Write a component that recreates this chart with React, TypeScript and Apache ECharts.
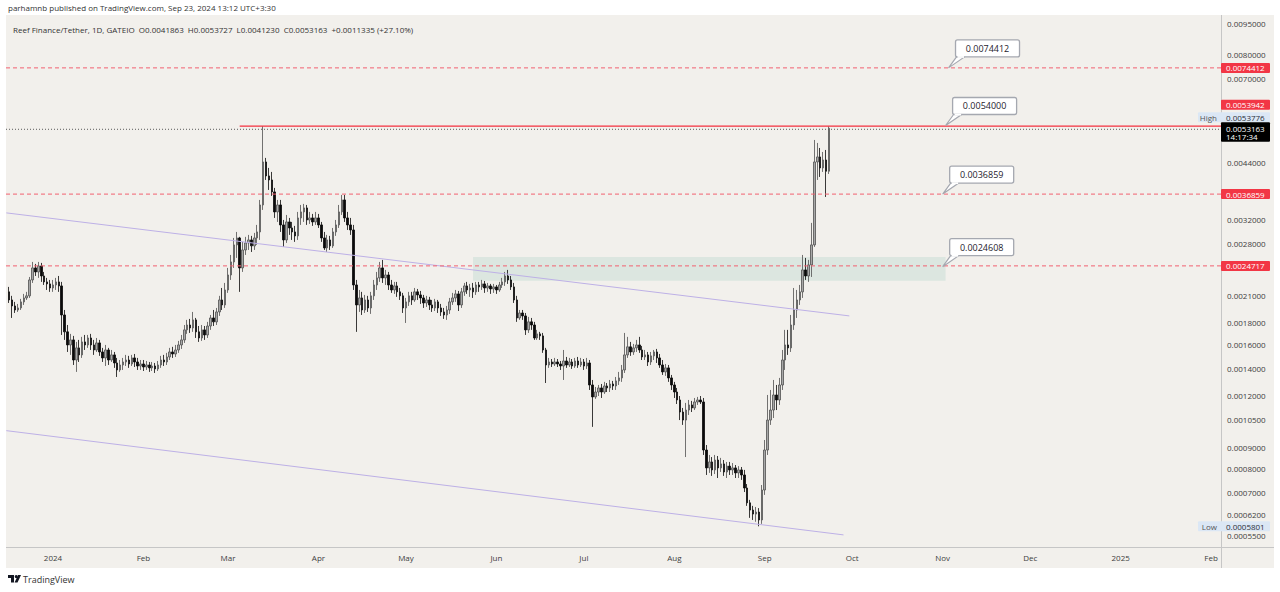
import React, { useEffect, useRef } from 'react';
import * as echarts from 'echarts';

// ---------------- data (prices in units of 1e-7 USDT) ----------------
const FIRST_CANDLE_DATE = '2023-12-17';
const PRICE_UNIT = 1e-7;

const OPEN = [
  21390, 20450, 19780, 19340, 19560, 20230, 20680, 20920, 22860, 24440, 23900, 24710, 23370, 22610, 22360,
  21860, 22230, 22610, 22110, 18810, 17120, 15920, 16370, 14640, 15660,
  15060, 16190, 15920, 16550, 15920, 15480, 16100, 15310, 14810, 15480,
  14640, 15060, 14400, 13850, 14240, 14480, 14640, 14320, 14810, 14480,
  14160, 14320, 14080, 14240, 14010, 14160, 13930, 14240, 14640, 14480,
  14890, 15310, 15140, 15480, 15920, 16370, 17310, 17790, 17500, 18300,
  17120, 16550, 17310, 16830, 17690, 18500, 18100, 19130, 20450, 19890,
  21620, 23500, 25270, 27780, 28880, 24440, 27010, 28090, 28560, 27630,
  28880, 29860, 34700, 44080, 40780, 39880, 37310, 33380, 34700, 31050,
  28560, 31570, 30530, 29860, 29210, 32280, 33380, 34130, 31920, 32280,
  31570, 32280, 31050, 28880, 27320, 28560, 27630, 29860, 31050, 33380,
  35680, 32280, 31050, 30190, 22230, 19890, 20680, 19340, 20450, 19560,
  20920, 22230, 23120, 24440, 23120, 23500, 22230, 21620, 22110, 21390,
  20920, 19560, 20230, 20920, 20450, 21390, 21030, 20680, 20110, 20450,
  19890, 19560, 20230, 19560, 19130, 18810, 19340, 20230, 20680, 21150,
  19890, 21390, 22110, 21620, 21860, 21390, 22230, 21990, 22360, 21860,
  22110, 21740, 21990, 21620, 22230, 22610, 23370, 22860, 21990, 20450,
  18500, 19020, 18710, 17310, 18100, 17790, 16550, 16930, 16740, 15480,
  14240, 14480, 14320, 14480, 14320, 14160, 14560, 14240, 14480, 14160,
  14560, 14240, 14480, 14160, 14400, 12740, 11920, 12250, 12530, 12250,
  12670, 12530, 12810, 12670, 13030, 13250, 13850, 15060, 15750, 15310,
  15660, 15920, 15480, 14890, 15060, 14480, 14980, 15310, 14810, 14240,
  13700, 14010, 13250, 12740, 12250, 11720, 10960, 10480, 11080, 11400,
  11210, 11590, 11720, 11590, 8870, 8030, 8300, 7940, 8390, 8030,
  8210, 7850, 8110, 7940, 8030, 7810, 7940, 7720, 7180, 6610,
  6350, 6210, 6280, 6010, 7100, 8870, 10480, 11080, 12050, 11720,
  12740, 14640, 15920, 15660, 17790, 19340, 20450, 21390, 24170, 23370,
  24850, 27780, 44080, 45330, 42640, 44570, 41863,
];
const HIGH = [
  21990, 20920, 20230, 20000, 20570, 21150, 21390, 23240, 25270, 24990, 25270, 25130, 23900, 23120, 22860,
  22860, 23120, 23370, 22610, 19340, 17790, 16930, 16740, 16190, 16370,
  16650, 16830, 16830, 16930, 16370, 16550, 16370, 15660, 15920, 15660,
  15480, 15310, 14810, 14640, 14810, 15060, 14980, 15060, 15140, 14810,
  14640, 14640, 14560, 14480, 14480, 14400, 14560, 14980, 15060, 15230,
  15660, 15750, 15920, 16280, 16830, 17790, 18300, 18400, 19130, 18500,
  17690, 17790, 17690, 18100, 18810, 19340, 19560, 20920, 21860, 22480,
  24440, 26270, 28880, 29860, 29050, 28250, 29050, 29370, 29210, 29700,
  31050, 35680, 53776, 45080, 42640, 41700, 38150, 35680, 35680, 31920,
  32820, 32280, 31570, 30880, 33380, 34700, 34900, 34700, 33380, 33010,
  33380, 33010, 31570, 29860, 29370, 29210, 30530, 31920, 34700, 36690,
  36690, 33380, 32280, 31050, 22860, 21620, 21390, 21030, 20920, 21390,
  22860, 23900, 25270, 25550, 24170, 23900, 22860, 22610, 22610, 21860,
  21270, 20680, 21390, 21390, 21860, 21740, 21500, 21030, 20920, 20800,
  20450, 20570, 20450, 20000, 19560, 19780, 20680, 21270, 21620, 21500,
  21860, 22480, 22610, 22360, 22480, 22610, 22610, 22860, 22730, 22480,
  22360, 22360, 22230, 22610, 23120, 23900, 24170, 23370, 22480, 20920,
  19340, 19340, 19020, 18610, 18500, 18100, 17310, 17120, 17020, 15660,
  14810, 14720, 14810, 14720, 14560, 15480, 14890, 14810, 14720, 14810,
  14890, 14810, 14720, 14810, 14640, 13100, 12600, 12740, 12810, 12960,
  12880, 13100, 13030, 13320, 13700, 14240, 17020, 16650, 16190, 16010,
  16370, 16650, 15830, 15480, 15310, 15310, 15480, 15570, 15140, 14640,
  14320, 14240, 13470, 12960, 12530, 11980, 11210, 11530, 11720, 11660,
  11850, 11920, 11980, 11850, 9120, 8630, 8530, 8630, 8580, 8490,
  8390, 8300, 8300, 8250, 8160, 8110, 8070, 7940, 7340, 6720,
  6500, 6460, 6420, 7300, 9380, 12050, 12390, 13100, 12740, 13250,
  15480, 17310, 17310, 18810, 21860, 21620, 22230, 26270, 25840, 25550,
  31400, 49820, 49000, 47650, 46600, 47120, 53727,
];
const LOW = [
  20110, 18500, 19020, 19130, 19340, 19890, 20450, 20680, 22480, 23370, 23120, 22610, 22230, 21620, 21390,
  21390, 21620, 21390, 16830, 16370, 15310, 15060, 14240, 13700, 14480,
  14810, 15480, 15660, 15480, 15060, 15310, 14980, 14480, 14160, 14240,
  14480, 14010, 13320, 13700, 13850, 14160, 14010, 14160, 14080, 13850,
  13850, 13770, 13850, 13700, 13770, 13620, 13770, 14010, 14160, 14240,
  14640, 14810, 14890, 15230, 15570, 16100, 16930, 17020, 17120, 16550,
  16190, 16280, 16370, 16550, 17310, 17690, 17790, 18710, 19340, 19560,
  21270, 22860, 24440, 25840, 21390, 23900, 26270, 27010, 26710, 27010,
  27780, 28560, 33750, 39880, 37720, 36490, 32280, 31570, 29860, 27470,
  28090, 29370, 28560, 28250, 28560, 31050, 31570, 31050, 31220, 30880,
  31050, 30530, 28250, 27010, 26710, 27010, 27320, 29210, 30530, 32820,
  31570, 30190, 29370, 21620, 17120, 19130, 18810, 19020, 19130, 18920,
  20450, 21620, 22610, 22480, 22230, 21620, 21270, 21150, 20800, 20450,
  19020, 17990, 19780, 19890, 20230, 20450, 20000, 19560, 19670, 19340,
  19130, 19230, 19020, 18710, 18400, 18300, 18920, 19890, 20230, 19230,
  19560, 20920, 21150, 20800, 20680, 21030, 21390, 21620, 21270, 21390,
  21150, 21270, 21150, 21390, 21860, 22110, 22360, 21620, 20110, 18100,
  18300, 18300, 16830, 17020, 17310, 16370, 16370, 16370, 15230, 12880,
  14010, 14080, 14160, 14080, 13850, 13100, 14010, 14080, 13930, 14010,
  14010, 14080, 13850, 13930, 12390, 10090, 11790, 11980, 11850, 12120,
  12250, 12250, 12390, 12390, 12740, 12960, 13620, 14810, 14980, 15060,
  15310, 15230, 14640, 14640, 14160, 14240, 14640, 14400, 14010, 13470,
  13400, 12960, 12390, 11850, 11460, 10480, 10200, 8530, 10780, 10960,
  11080, 11400, 11460, 8630, 7720, 7810, 7680, 7760, 7590, 7850,
  7680, 7590, 7720, 7720, 7590, 7590, 7510, 7020, 6500, 6080,
  6010, 5950, 5801, 5880, 6910, 8630, 10200, 10600, 11080, 11400,
  12390, 13850, 15060, 15310, 17310, 18500, 19890, 20680, 22860, 22610,
  23240, 27470, 39880, 40550, 41700, 36280, 41230,
];
const CLOSE = [
  20450, 19780, 19340, 19560, 20230, 20680, 20920, 22860, 24440, 23900, 24710, 23370, 22610, 22360, 21860,
  22230, 22610, 22110, 18810, 17120, 15920, 16370, 14640, 15660, 15060,
  16190, 15920, 16550, 15920, 15480, 16100, 15310, 14810, 15480, 14640,
  15060, 14400, 13850, 14240, 14480, 14640, 14320, 14810, 14480, 14160,
  14320, 14080, 14240, 14010, 14160, 13930, 14240, 14640, 14480, 14890,
  15310, 15140, 15480, 15920, 16370, 17310, 17790, 17500, 18300, 17120,
  16550, 17310, 16830, 17690, 18500, 18100, 19130, 20450, 19890, 21620,
  23500, 25270, 27780, 28880, 24440, 27010, 28090, 28560, 27630, 28880,
  29860, 34700, 44080, 40780, 39880, 37310, 33380, 34700, 31050, 28560,
  31570, 30530, 29860, 29210, 32280, 33380, 34130, 31920, 32280, 31570,
  32280, 31050, 28880, 27320, 28560, 27630, 29860, 31050, 33380, 35680,
  32280, 31050, 30190, 22230, 19890, 20680, 19340, 20450, 19560, 20920,
  22230, 23120, 24440, 23120, 23500, 22230, 21620, 22110, 21390, 20920,
  19560, 20230, 20920, 20450, 21390, 21030, 20680, 20110, 20450, 19890,
  19560, 20230, 19560, 19130, 18810, 19340, 20230, 20680, 21150, 19890,
  21390, 22110, 21620, 21860, 21390, 22230, 21990, 22360, 21860, 22110,
  21740, 21990, 21620, 22230, 22610, 23370, 22860, 21990, 20450, 18500,
  19020, 18710, 17310, 18100, 17790, 16550, 16930, 16740, 15480, 14240,
  14480, 14320, 14480, 14320, 14160, 14560, 14240, 14480, 14160, 14560,
  14240, 14480, 14160, 14400, 12740, 11920, 12250, 12530, 12250, 12670,
  12530, 12810, 12670, 13030, 13250, 13850, 15060, 15750, 15310, 15660,
  15920, 15480, 14890, 15060, 14480, 14980, 15310, 14810, 14240, 13700,
  14010, 13250, 12740, 12250, 11720, 10960, 10480, 11080, 11400, 11210,
  11590, 11720, 11590, 8870, 8030, 8300, 7940, 8390, 8030, 8210,
  7850, 8110, 7940, 8030, 7810, 7940, 7720, 7180, 6610, 6350,
  6210, 6280, 6010, 7100, 8870, 10480, 11080, 12050, 11720, 12740,
  14640, 15920, 15660, 17790, 19340, 20450, 21390, 24170, 23370, 24850,
  27780, 44080, 45330, 42640, 44570, 41863, 53163,
];

const MONTH_TICK_DATES = [
  '2024-01-01', '2024-02-01', '2024-03-01', '2024-04-01', '2024-05-01', '2024-06-01', '2024-07-01',
  '2024-08-01', '2024-09-01', '2024-10-01', '2024-11-01', '2024-12-01', '2025-01-01', '2025-02-01',
];
const MONTH_TICK_LABELS = ['2024', 'Feb', 'Mar', 'Apr', 'May', 'Jun', 'Jul', 'Aug', 'Sep', 'Oct', 'Nov', 'Dec', '2025', 'Feb'];
const PRICE_TICKS = [
  0.0095, 0.008, 0.007, 0.0044, 0.0032, 0.0028, 0.0021, 0.0018, 0.0016, 0.0014, 0.0012, 0.00105,
  0.0009, 0.0008, 0.0007, 0.00062, 0.00055,
];

// visible window (days from 2024-01-01, prices)
const VIEW_START_DAY = -16.11;
const VIEW_END_DAY = 400.41;
const VIEW_PRICE_MIN = 0.000517;
const VIEW_PRICE_MAX = 0.009932;

// horizontal drawings: start date (null = whole width), price, kind
const HLINE_STARTS = [null, null, null, null, '2024-03-05'];
const HLINE_PRICES = [0.0074412, 0.0036859, 0.0024717, 0.0053163, 0.0053942];
const HLINE_KINDS = ['dashed', 'dashed', 'dashed', 'dotted', 'solid'];
const COUNTDOWN = '14:17:34';

const TAG_PRICES = [0.0074412, 0.0053942, 0.0053776, 0.0053163, 0.0036859, 0.0024717, 0.0005801];
const TAG_TEXTS = ['0.0074412', '0.0053942', '0.0053776', '0.0053163', '0.0036859', '0.0024717', '0.0005801'];
const TAG_KINDS = ['level', 'level', 'High', 'last', 'level', 'level', 'Low'];

const NOTE_DATES = ['2024-11-03', '2024-11-02', '2024-11-01', '2024-11-01'];
const NOTE_PRICES = [0.0074412, 0.0054, 0.0036859, 0.0024608];
const NOTE_TEXTS = ['0.0074412', '0.0054000', '0.0036859', '0.0024608'];

const ZONE = { from: '2024-05-24', to: '2024-11-02', low: 0.002274, high: 0.002598 };
const UPPER_TREND = [['2023-12-16', 0.00332], ['2024-09-30', 0.001871]];
const LOWER_TREND = [['2023-12-16', 0.000988], ['2024-09-28', 0.000553]];

const HEADER = 'parhamnb published on TradingView.com, Sep 23, 2024 13:12 UTC+3:30';
const LEGEND = 'Reef Finance/Tether, 1D, GATEIO  O0.0041863  H0.0053727  L0.0041230  C0.0053163  +0.0011335 (+27.10%)';

// ---------------- helpers / styles ----------------
const ORIGIN = Date.UTC(2024, 0, 1);
const dayOf = (s: string) => (Date.parse(s + 'T00:00:00Z') - ORIGIN) / 86400000;
const ln = Math.log;
const FONT = '"Open Sans", "Noto Sans", sans-serif';
const TAG_NUDGE: Record<number, number> = { 1: -21, 2: -9 };
const RED = '#f23645';
const HLINE_STYLE: Record<string, any> = {
  dashed: { stroke: '#f26170', lineWidth: 1, lineDash: [4, 3] },
  dotted: { stroke: '#5a5a5a', lineWidth: 1, lineDash: [1, 2] },
  solid: { stroke: '#f4303f', lineWidth: 1.2 },
};
const HLINE_NUDGE: Record<string, number> = { dotted: 1, solid: 0.5 };

export default function App() {
  const ref = useRef<HTMLDivElement>(null);

  useEffect(() => {
    if (!ref.current) return;
    const chart = echarts.init(ref.current, null, { renderer: 'svg' });

    const first = dayOf(FIRST_CANDLE_DATE);
    const candles = OPEN.map((o, i) => [
      first + i,
      ln(o * PRICE_UNIT),
      ln(CLOSE[i] * PRICE_UNIT),
      ln(LOW[i] * PRICE_UNIT),
      ln(HIGH[i] * PRICE_UNIT),
    ]);
    const monthDays = MONTH_TICK_DATES.map(dayOf);

    const option: any = {
      animation: false,
      backgroundColor: '#f2f0ec',
      textStyle: { fontFamily: FONT },
      grid: { left: 6, right: 59, top: 16, bottom: 45 },
      xAxis: {
        type: 'value',
        min: VIEW_START_DAY,
        max: VIEW_END_DAY,
        axisLine: { show: false },
        axisTick: { show: false },
        splitLine: { show: false },
        axisLabel: {
          customValues: monthDays,
          formatter: (v: number) => {
            const i = monthDays.findIndex((d) => Math.abs(d - v) < 1e-6);
            return i >= 0 ? MONTH_TICK_LABELS[i] : '';
          },
          color: '#3d3d3d',
          fontSize: 8,
          fontFamily: FONT,
          margin: 6,
        },
      },
      yAxis: {
        type: 'value',
        position: 'right',
        min: ln(VIEW_PRICE_MIN),
        max: ln(VIEW_PRICE_MAX),
        axisLine: { show: false },
        axisTick: { show: false },
        splitLine: { show: false },
        axisLabel: {
          customValues: PRICE_TICKS.map(ln),
          formatter: (v: number) => Math.exp(v).toFixed(7),
          color: '#3d3d3d',
          fontSize: 8,
          fontFamily: FONT,
          margin: 6,
        },
      },
      graphic: [
        { type: 'rect', silent: true, z: -1, shape: { x: 0, y: 0, width: 1280, height: 15 }, style: { fill: '#ffffff' } },
        { type: 'rect', silent: true, z: -1, shape: { x: 0, y: 568, width: 1280, height: 24 }, style: { fill: '#ffffff' } },
        { type: 'rect', silent: true, z: -1, shape: { x: 0, y: 0, width: 6, height: 592 }, style: { fill: '#ffffff' } },
        { type: 'rect', silent: true, z: -1, shape: { x: 1274, y: 0, width: 6, height: 592 }, style: { fill: '#ffffff' } },
        { type: 'line', silent: true, z: 1, shape: { x1: 1221.5, y1: 15, x2: 1221.5, y2: 568 }, style: { stroke: '#c6c6c6', lineWidth: 1 } },
        { type: 'line', silent: true, z: 1, shape: { x1: 6, y1: 547.5, x2: 1274, y2: 547.5 }, style: { stroke: '#c6c6c6', lineWidth: 1 } },
        { type: 'text', silent: true, z: 10, x: 8, y: 7, style: { text: HEADER, fill: '#333333', fontSize: 8, fontFamily: FONT, verticalAlign: 'middle' } },
        { type: 'text', silent: true, z: 10, x: 13, y: 29, style: { text: LEGEND, fill: '#333333', fontSize: 8, fontFamily: FONT, verticalAlign: 'middle' } },
        { type: 'polygon', silent: true, z: 10, shape: { points: [[8, 575], [14, 575], [14, 582.5], [11, 582.5], [11, 578], [8, 578]] }, style: { fill: '#131722' } },
        { type: 'circle', silent: true, z: 10, shape: { cx: 16.2, cy: 576.6, r: 1.5 }, style: { fill: '#131722' } },
        { type: 'polygon', silent: true, z: 10, shape: { points: [[18, 575], [21, 575], [17.5, 582.5], [14.6, 582.5]] }, style: { fill: '#131722' } },
        { type: 'text', silent: true, z: 10, x: 23, y: 579, style: { text: 'TradingView', fill: '#333333', fontSize: 9, fontFamily: FONT, verticalAlign: 'middle' } },
      ],
      series: [
        {
          type: 'candlestick',
          silent: true,
          z: 3,
          barWidth: 2,
          data: candles,
          itemStyle: {
            color: '#a8a8a8',
            color0: '#0a0a0a',
            borderColor: '#505050',
            borderColor0: '#0a0a0a',
            borderWidth: 0.8,
          },
          markArea: {
            silent: true,
            itemStyle: { color: 'rgba(120,190,170,0.18)' },
            data: [[
              { coord: [dayOf(ZONE.from), ln(ZONE.high)] },
              { coord: [dayOf(ZONE.to), ln(ZONE.low)] },
            ]],
          },
        },
        {
          type: 'line',
          silent: true,
          z: 4,
          showSymbol: false,
          data: UPPER_TREND.map(([d, p]) => [dayOf(d as string), ln(p as number)]),
          lineStyle: { color: '#bdb0e6', width: 1 },
        },
        {
          type: 'line',
          silent: true,
          z: 4,
          showSymbol: false,
          data: LOWER_TREND.map(([d, p]) => [dayOf(d as string), ln(p as number)]),
          lineStyle: { color: '#bdb0e6', width: 1 },
        },
        {
          type: 'custom',
          silent: true,
          z: 5,
          data: HLINE_PRICES.map((p, i) => [HLINE_STARTS[i] ? dayOf(HLINE_STARTS[i] as string) : VIEW_START_DAY, ln(p)]),
          encode: { x: 0, y: 1 },
          renderItem: (params: any, api: any) => {
            const i = params.dataIndex;
            const cs = params.coordSys;
            const pt = api.coord([api.value(0), api.value(1)]);
            const kind = HLINE_KINDS[i];
            const y = pt[1] + (HLINE_NUDGE[kind] || 0);
            return {
              type: 'line',
              shape: { x1: pt[0], y1: y, x2: cs.x + cs.width, y2: y },
              style: HLINE_STYLE[kind],
            };
          },
        },
        {
          type: 'custom',
          silent: true,
          z: 8,
          data: NOTE_PRICES.map((p, i) => [dayOf(NOTE_DATES[i]), ln(p)]),
          encode: { x: 0, y: 1 },
          renderItem: (params: any, api: any) => {
            const i = params.dataIndex;
            const pt = api.coord([api.value(0), api.value(1)]);
            const x = pt[0];
            const y = pt[1];
            return {
              type: 'group',
              children: [
                {
                  type: 'polygon',
                  shape: { points: [[x, y], [x + 8, y - 11], [x + 16, y - 11]] },
                  style: { fill: '#ffffff', stroke: '#a5a8b0', lineWidth: 1.2 },
                },
                {
                  type: 'rect',
                  shape: { x: x + 7, y: y - 28, width: 64, height: 17, r: 2 },
                  style: { fill: '#ffffff', stroke: '#a5a8b0', lineWidth: 1.3 },
                },
                {
                  type: 'rect',
                  shape: { x: x + 9, y: y - 11.8, width: 6.5, height: 1.8 },
                  style: { fill: '#ffffff' },
                },
                {
                  type: 'text',
                  style: {
                    text: NOTE_TEXTS[i], x: x + 39, y: y - 19.5, align: 'center', verticalAlign: 'middle',
                    fill: '#1e222d', fontSize: 9, fontFamily: FONT,
                  },
                },
              ],
            };
          },
        },
        {
          type: 'custom',
          silent: true,
          z: 9,
          data: TAG_PRICES.map((p) => [VIEW_END_DAY, ln(p)]),
          encode: { x: 0, y: 1 },
          renderItem: (params: any, api: any) => {
            const i = params.dataIndex;
            const pt = api.coord([api.value(0), api.value(1)]);
            const x = pt[0];
            const y = pt[1] + (TAG_NUDGE[i] || 0);
            const kind = TAG_KINDS[i];
            const children: any[] = [];
            if (kind === 'level') {
              children.push({ type: 'rect', shape: { x: x, y: y - 5, width: 49, height: 10, r: 1 }, style: { fill: RED } });
              children.push({ type: 'text', style: { text: TAG_TEXTS[i], x: x + 5, y: y, verticalAlign: 'middle', fill: '#ffffff', fontSize: 8, fontFamily: FONT } });
            } else if (kind === 'last') {
              children.push({ type: 'rect', shape: { x: x, y: y - 6, width: 49, height: 19.5, r: 1 }, style: { fill: '#000000' } });
              children.push({ type: 'text', style: { text: TAG_TEXTS[i], x: x + 5, y: y, verticalAlign: 'middle', fill: '#ffffff', fontSize: 8, fontFamily: FONT } });
              children.push({ type: 'text', style: { text: COUNTDOWN, x: x + 5, y: y + 8.6, verticalAlign: 'middle', fill: '#ffffff', fontSize: 8, fontFamily: FONT } });
            } else {
              children.push({ type: 'rect', shape: { x: x - 23, y: y - 5, width: 72, height: 10, r: 1 }, style: { fill: '#dbe7f5' } });
              children.push({ type: 'text', style: { text: kind, x: x - 4, y: y, align: 'right', verticalAlign: 'middle', fill: '#555555', fontSize: 8, fontFamily: FONT } });
              children.push({ type: 'text', style: { text: TAG_TEXTS[i], x: x + 5, y: y, verticalAlign: 'middle', fill: '#2a2e39', fontSize: 8, fontFamily: FONT } });
            }
            return { type: 'group', children };
          },
        },
      ],
    };

    chart.setOption(option);
    return () => chart.dispose();
  }, []);

  return <div ref={ref} style={{ position: 'absolute', left: 0, top: 0, width: 1280, height: 592 }} />;
}
